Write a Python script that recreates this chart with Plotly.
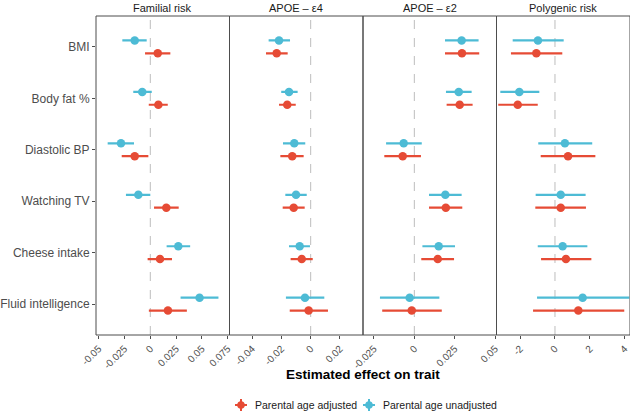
import plotly.graph_objects as go

categories = ["BMI", "Body fat %", "Diastolic BP", "Watching TV", "Cheese intake", "Fluid intelligence"]
panels = ["Familial risk", "APOE – ε4", "APOE – ε2", "Polygenic risk"]
series_names = ["Parental age adjusted", "Parental age unadjusted"]

# Familial risk
fam_adj_est = [0.0072, 0.0078, -0.0151, 0.0155, 0.0094, 0.0171]
fam_adj_lo = [-0.0051, -0.0015, -0.0277, 0.0036, -0.0026, -0.0014]
fam_adj_hi = [0.0194, 0.0169, -0.0019, 0.0275, 0.0210, 0.0354]
fam_unadj_est = [-0.0151, -0.0078, -0.0284, -0.0116, 0.0271, 0.0477]
fam_unadj_lo = [-0.0271, -0.0165, -0.0413, -0.0236, 0.0158, 0.0293]
fam_unadj_hi = [-0.0035, 0.0014, -0.0158, 0.0000, 0.0386, 0.0660]

# APOE e4
e4_adj_est = [-0.0232, -0.0160, -0.0126, -0.0116, -0.0061, -0.0014]
e4_adj_lo = [-0.0305, -0.0216, -0.0207, -0.0191, -0.0137, -0.0143]
e4_adj_hi = [-0.0157, -0.0102, -0.0048, -0.0041, 0.0014, 0.0118]
e4_unadj_est = [-0.0216, -0.0148, -0.0112, -0.0100, -0.0075, -0.0039]
e4_unadj_lo = [-0.0287, -0.0201, -0.0189, -0.0173, -0.0148, -0.0169]
e4_unadj_hi = [-0.0141, -0.0089, -0.0037, -0.0027, -0.0005, 0.0093]

# APOE e2
e2_adj_est = [0.0295, 0.0281, -0.0072, 0.0195, 0.0145, -0.0016]
e2_adj_lo = [0.0190, 0.0200, -0.0186, 0.0091, 0.0043, -0.0199]
e2_adj_hi = [0.0402, 0.0361, 0.0041, 0.0297, 0.0246, 0.0170]
e2_unadj_est = [0.0293, 0.0275, -0.0066, 0.0192, 0.0151, -0.0029]
e2_unadj_lo = [0.0190, 0.0196, -0.0175, 0.0091, 0.0050, -0.0213]
e2_unadj_hi = [0.0398, 0.0355, 0.0046, 0.0293, 0.0252, 0.0155]

# Polygenic risk
prs_adj_est = [-1.07, -2.14, 0.75, 0.33, 0.63, 1.34]
prs_adj_lo = [-2.53, -3.26, -0.82, -1.13, -0.80, -1.26]
prs_adj_hi = [0.42, -0.99, 2.32, 1.78, 2.09, 3.98]
prs_unadj_est = [-0.98, -2.05, 0.57, 0.33, 0.44, 1.59]
prs_unadj_lo = [-2.43, -3.14, -0.96, -1.11, -0.99, -1.03]
prs_unadj_hi = [0.50, -0.90, 2.14, 1.76, 1.86, 4.27]

tick_vals = [
    [-0.05, -0.025, 0, 0.025, 0.05, 0.075],
    [-0.04, -0.02, 0, 0.02],
    [-0.025, 0, 0.025, 0.05],
    [-2, 0, 2, 4],
]
tick_text = [
    ["-0.05", "-0.025", "0", "0.025", "0.05", "0.075"],
    ["-0.04", "-0.02", "0", "0.02"],
    ["-0.025", "0", "0.025", "0.05"],
    ["-2", "0", "2", "4"],
]
x_ranges = [[-0.0526, 0.0767], [-0.0554, 0.0357], [-0.0318, 0.0509], [-3.36, 4.31]]

panel_data = [
    ((fam_adj_est, fam_adj_lo, fam_adj_hi), (fam_unadj_est, fam_unadj_lo, fam_unadj_hi)),
    ((e4_adj_est, e4_adj_lo, e4_adj_hi), (e4_unadj_est, e4_unadj_lo, e4_unadj_hi)),
    ((e2_adj_est, e2_adj_lo, e2_adj_hi), (e2_unadj_est, e2_unadj_lo, e2_unadj_hi)),
    ((prs_adj_est, prs_adj_lo, prs_adj_hi), (prs_unadj_est, prs_unadj_lo, prs_unadj_hi)),
]

RED = "#E64B35"
BLUE = "#4DBBD5"
colors = [RED, BLUE]
dodge = [0.125, -0.125]
FONT = "Liberation Sans, Arial, sans-serif"

fig = go.Figure()
ypos = list(range(1, len(categories) + 1))

for p, (adj, unadj) in enumerate(panel_data):
    xa = "x" if p == 0 else f"x{p+1}"
    for s, (est, lo, hi) in enumerate([adj, unadj]):
        fig.add_trace(go.Scatter(
            x=est,
            y=[v + dodge[s] for v in ypos],
            xaxis=xa, yaxis="y",
            mode="markers",
            name=series_names[s],
            showlegend=False,
            marker=dict(color=colors[s], size=8.5),
            error_x=dict(type="data", symmetric=False,
                         array=[h - e for h, e in zip(hi, est)],
                         arrayminus=[e - l for e, l in zip(est, lo)],
                         color=colors[s], thickness=2.2, width=0),
            hoverinfo="skip",
        ))

layout = dict(
    width=630, height=412,
    margin=dict(l=96, r=0, t=16, b=77, autoexpand=False),
    paper_bgcolor="white", plot_bgcolor="white",
    font=dict(family=FONT, color="#4d4d4d"),
    showlegend=False,
    yaxis=dict(range=[len(categories) + 0.6, 0.4], tickvals=ypos, ticktext=categories,
               showgrid=False, zeroline=False, ticks="outside", ticklen=3, tickcolor="#4d4d4d",
               tickfont=dict(size=12, color="#4d4d4d"), showline=False, automargin=False),
)
shapes = []
annotations = []
for p in range(4):
    key = "xaxis" if p == 0 else f"xaxis{p+1}"
    layout[key] = dict(
        domain=[p * 0.25, (p + 1) * 0.25], anchor="y", range=x_ranges[p],
        tickvals=tick_vals[p], ticktext=tick_text[p], tickangle=-45,
        showgrid=False, zeroline=False, ticks="outside", ticklen=3, tickcolor="#4d4d4d",
        tickfont=dict(size=10, color="#4d4d4d"), showline=False, automargin=False,
    )
    xref = "x" if p == 0 else f"x{p+1}"
    shapes.append(dict(type="line", xref=xref, yref="paper", x0=0, x1=0, y0=0, y1=1,
                       line=dict(color="#bdbdbd", width=1, dash="dash"), layer="below"))
    shapes.append(dict(type="rect", xref=f"{xref} domain", yref="paper", x0=0, x1=1, y0=0, y1=1,
                       line=dict(color="#4d4d4d", width=1), layer="above"))
    annotations.append(dict(text=panels[p], xref="paper", yref="paper",
                            x=p * 0.25 + 0.125, y=1.025, xanchor="center", yanchor="middle",
                            showarrow=False, font=dict(size=11, color="#1a1a1a")))

annotations.append(dict(text="<b>Estimated effect on trait</b>", xref="paper", yref="paper",
                        x=0.5, y=-0.125, xanchor="center", yanchor="middle", showarrow=False,
                        font=dict(size=13.5, color="#000000")))

# Manual legend (key glyph = point with crossing range lines)
plot_l, plot_w, plot_b, plot_h = 96, 534, 335, 319
leg_y_px = 405
leg_key_px = [241, 369]
for s in range(2):
    xp = (leg_key_px[s] - plot_l) / plot_w
    yp = (plot_b - leg_y_px) / plot_h
    common = dict(xref="paper", yref="paper", xsizemode="pixel", ysizemode="pixel",
                  xanchor=xp, yanchor=yp, layer="above")
    shapes.append(dict(type="line", x0=-6, x1=6, y0=0, y1=0,
                       line=dict(color=colors[s], width=2), **common))
    shapes.append(dict(type="line", x0=0, x1=0, y0=-6, y1=6,
                       line=dict(color=colors[s], width=2), **common))
    shapes.append(dict(type="circle", x0=-3.8, x1=3.8, y0=-3.8, y1=3.8,
                       fillcolor=colors[s], line=dict(color=colors[s], width=0), **common))
    annotations.append(dict(text=series_names[s], xref="paper", yref="paper",
                            x=(leg_key_px[s] + 12 - plot_l) / plot_w, y=yp,
                            xanchor="left", yanchor="middle", showarrow=False,
                            font=dict(size=10.5, color="#1a1a1a")))

layout["shapes"] = shapes
layout["annotations"] = annotations
fig.update_layout(**layout)

fig.write_html("out.html", config={"displayModeBar": False},
               post_script="document.body.style.margin='0';document.body.style.padding='0';")
